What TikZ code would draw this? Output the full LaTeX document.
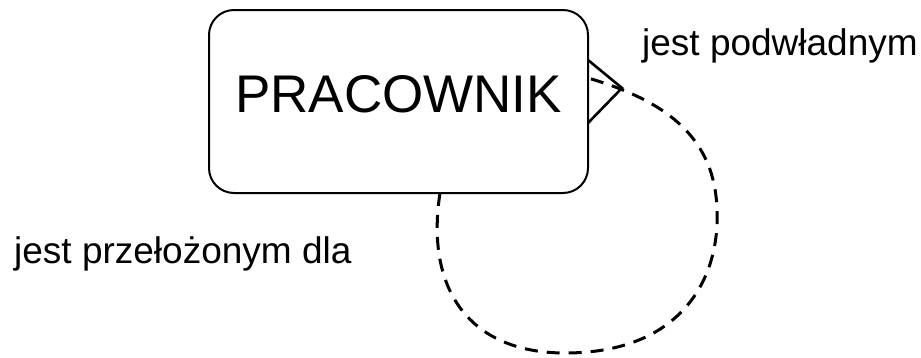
\documentclass[tikz,border=0pt]{standalone}
\usepackage{fontspec}
\setmainfont{Liberation Sans}
\begin{document}
\begin{tikzpicture}[x=1pt,y=-1pt,
  entity/.style={draw=black,line width=2pt,rounded corners=25pt,fill=white,
    minimum width=379pt,minimum height=183pt,outer sep=0pt,inner sep=0pt,
    font=\fontsize{53}{60}\selectfont,text depth=15pt},
  rolelabel/.style={inner sep=0pt,anchor=base west,font=\fontsize{37}{42}\selectfont},
  crowfoot/.style={draw=black,line width=2.6pt,line join=miter},
  relation/.style={draw=black,line width=3pt,dash pattern=on 13pt off 9pt}]
  \useasboundingbox (0,0) rectangle (921,357);

  % entity
  \node[entity] (box) at (398.5,101.5) {PRACOWNIK};

  % crow's foot on the right side of the entity
  \coordinate (tip) at (622,88);
  \draw[crowfoot] ([yshift=41.5pt]box.east) -- (tip) -- ([yshift=-21.5pt]box.east);

  % recursive relationship
  \draw[relation] ([xshift=41.5pt]box.south)
      .. controls (425,290) and (470,353) .. (565,353)
      .. controls (680,353) and (720,280) .. (717,210)
      .. controls (715,140) and (670,102) .. ([yshift=23.5pt]box.east);

  % role names
  \node[rolelabel] (sub) at (642,55) {jest podwładnym};
  \node[rolelabel] (sup) at (14,263) {jest przełożonym dla};
\end{tikzpicture}
\end{document}
